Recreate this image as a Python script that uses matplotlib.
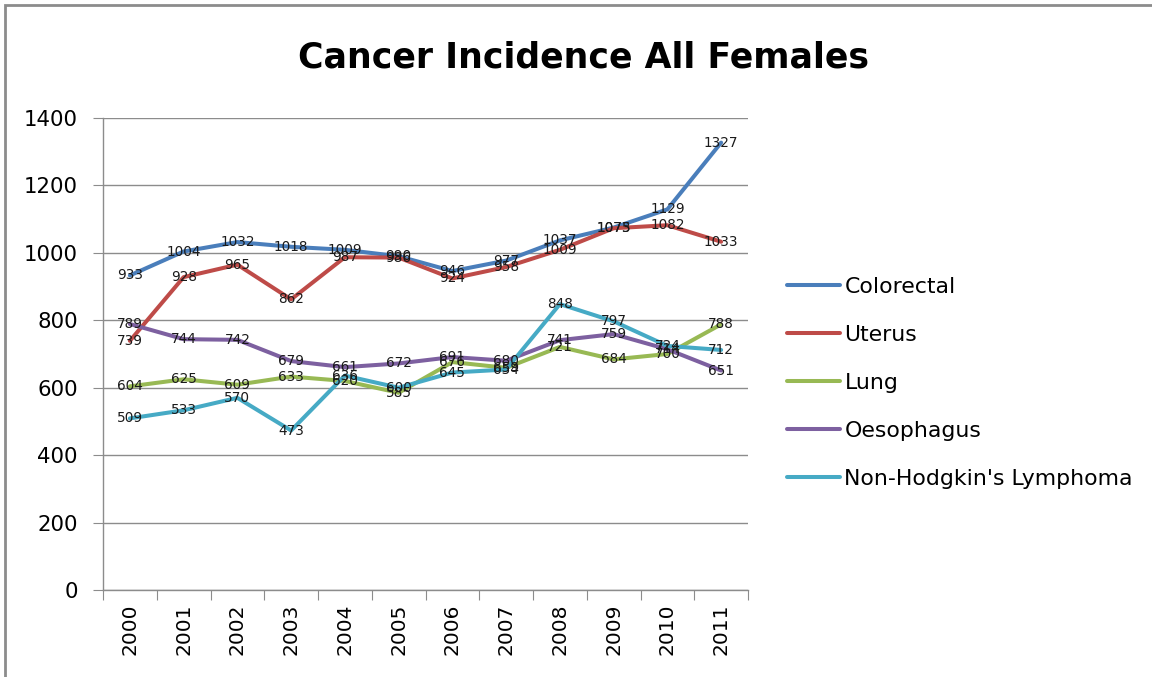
import matplotlib.pyplot as plt
from matplotlib.patches import Rectangle

# Chart data
years = ['2000', '2001', '2002', '2003', '2004', '2005',
         '2006', '2007', '2008', '2009', '2010', '2011']
colorectal = [933, 1004, 1032, 1018, 1009, 990, 946, 977, 1037, 1075, 1129, 1327]
uterus = [739, 928, 965, 862, 987, 986, 924, 958, 1009, 1073, 1082, 1033]
lung = [604, 625, 609, 633, 620, 585, 676, 659, 721, 684, 700, 788]
oesophagus = [789, 744, 742, 679, 661, 672, 691, 680, 741, 759, 714, 651]
nhl = [509, 533, 570, 473, 636, 600, 645, 654, 848, 797, 724, 712]

series_names = ['Colorectal', 'Uterus', 'Lung', 'Oesophagus', "Non-Hodgkin's Lymphoma"]
series_values = [colorectal, uterus, lung, oesophagus, nhl]
colors = ['#4a7ebb', '#be4b48', '#98b954', '#7d60a0', '#46aac5']

W, H = 1152, 677
fig = plt.figure(figsize=(W / 100, H / 100), dpi=100, facecolor='white')
ax = fig.add_axes([103 / W, 1 - 590 / H, 645 / W, 472 / H])

x = list(range(len(years)))
for name, vals, c in zip(series_names, series_values, colors):
    ax.plot(x, vals, color=c, linewidth=2.9, label=name, solid_capstyle='round', zorder=3)

# data labels on top of everything
for vals in series_values:
    for xi, v in zip(x, vals):
        ax.text(xi, v, str(v), ha='center', va='center', fontsize=9.8,
                color='#1a1a1a', zorder=5)

ax.set_xlim(-0.5, len(years) - 0.5)
ax.set_ylim(0, 1400)
ax.set_yticks(range(0, 1401, 200))
ax.yaxis.grid(True, color='#8c8c8c', linewidth=1)
ax.set_axisbelow(True)

# category ticks sit between the labels
ax.set_xticks([i - 0.5 for i in range(len(years) + 1)])
ax.set_xticklabels([])
ax.set_xticks(x, minor=True)
ax.set_xticklabels(years, minor=True, rotation=90, fontsize=14.5)
ax.tick_params(axis='x', which='minor', length=0, pad=10)
ax.tick_params(axis='x', which='major', length=7, color='#8c8c8c')
ax.tick_params(axis='y', length=7, color='#8c8c8c', labelsize=15.3, pad=11)

for s in ['top', 'right']:
    ax.spines[s].set_visible(False)
for s in ['left', 'bottom']:
    ax.spines[s].set_color('#8c8c8c')
    ax.spines[s].set_linewidth(1)

fig.text(583 / W, 1 - 58 / H, 'Cancer Incidence All Females', ha='center', va='center',
         fontsize=25, fontweight='bold')

fig.legend(loc='center left', bbox_to_anchor=(787 / W, 1 - 383 / H), frameon=False,
           fontsize=15.8, handlelength=2.4, handletextpad=0.22, labelspacing=1.28,
           borderpad=0, borderaxespad=0)

# outer chart frame (left and top edges visible)
fig.patches.append(Rectangle((5 / W, -0.05), 1.1, 1 - 5 / H + 0.05, transform=fig.transFigure,
                             fill=False, edgecolor='#8c8c8c', linewidth=2, clip_on=False))

fig.savefig('out.png', dpi=100)
